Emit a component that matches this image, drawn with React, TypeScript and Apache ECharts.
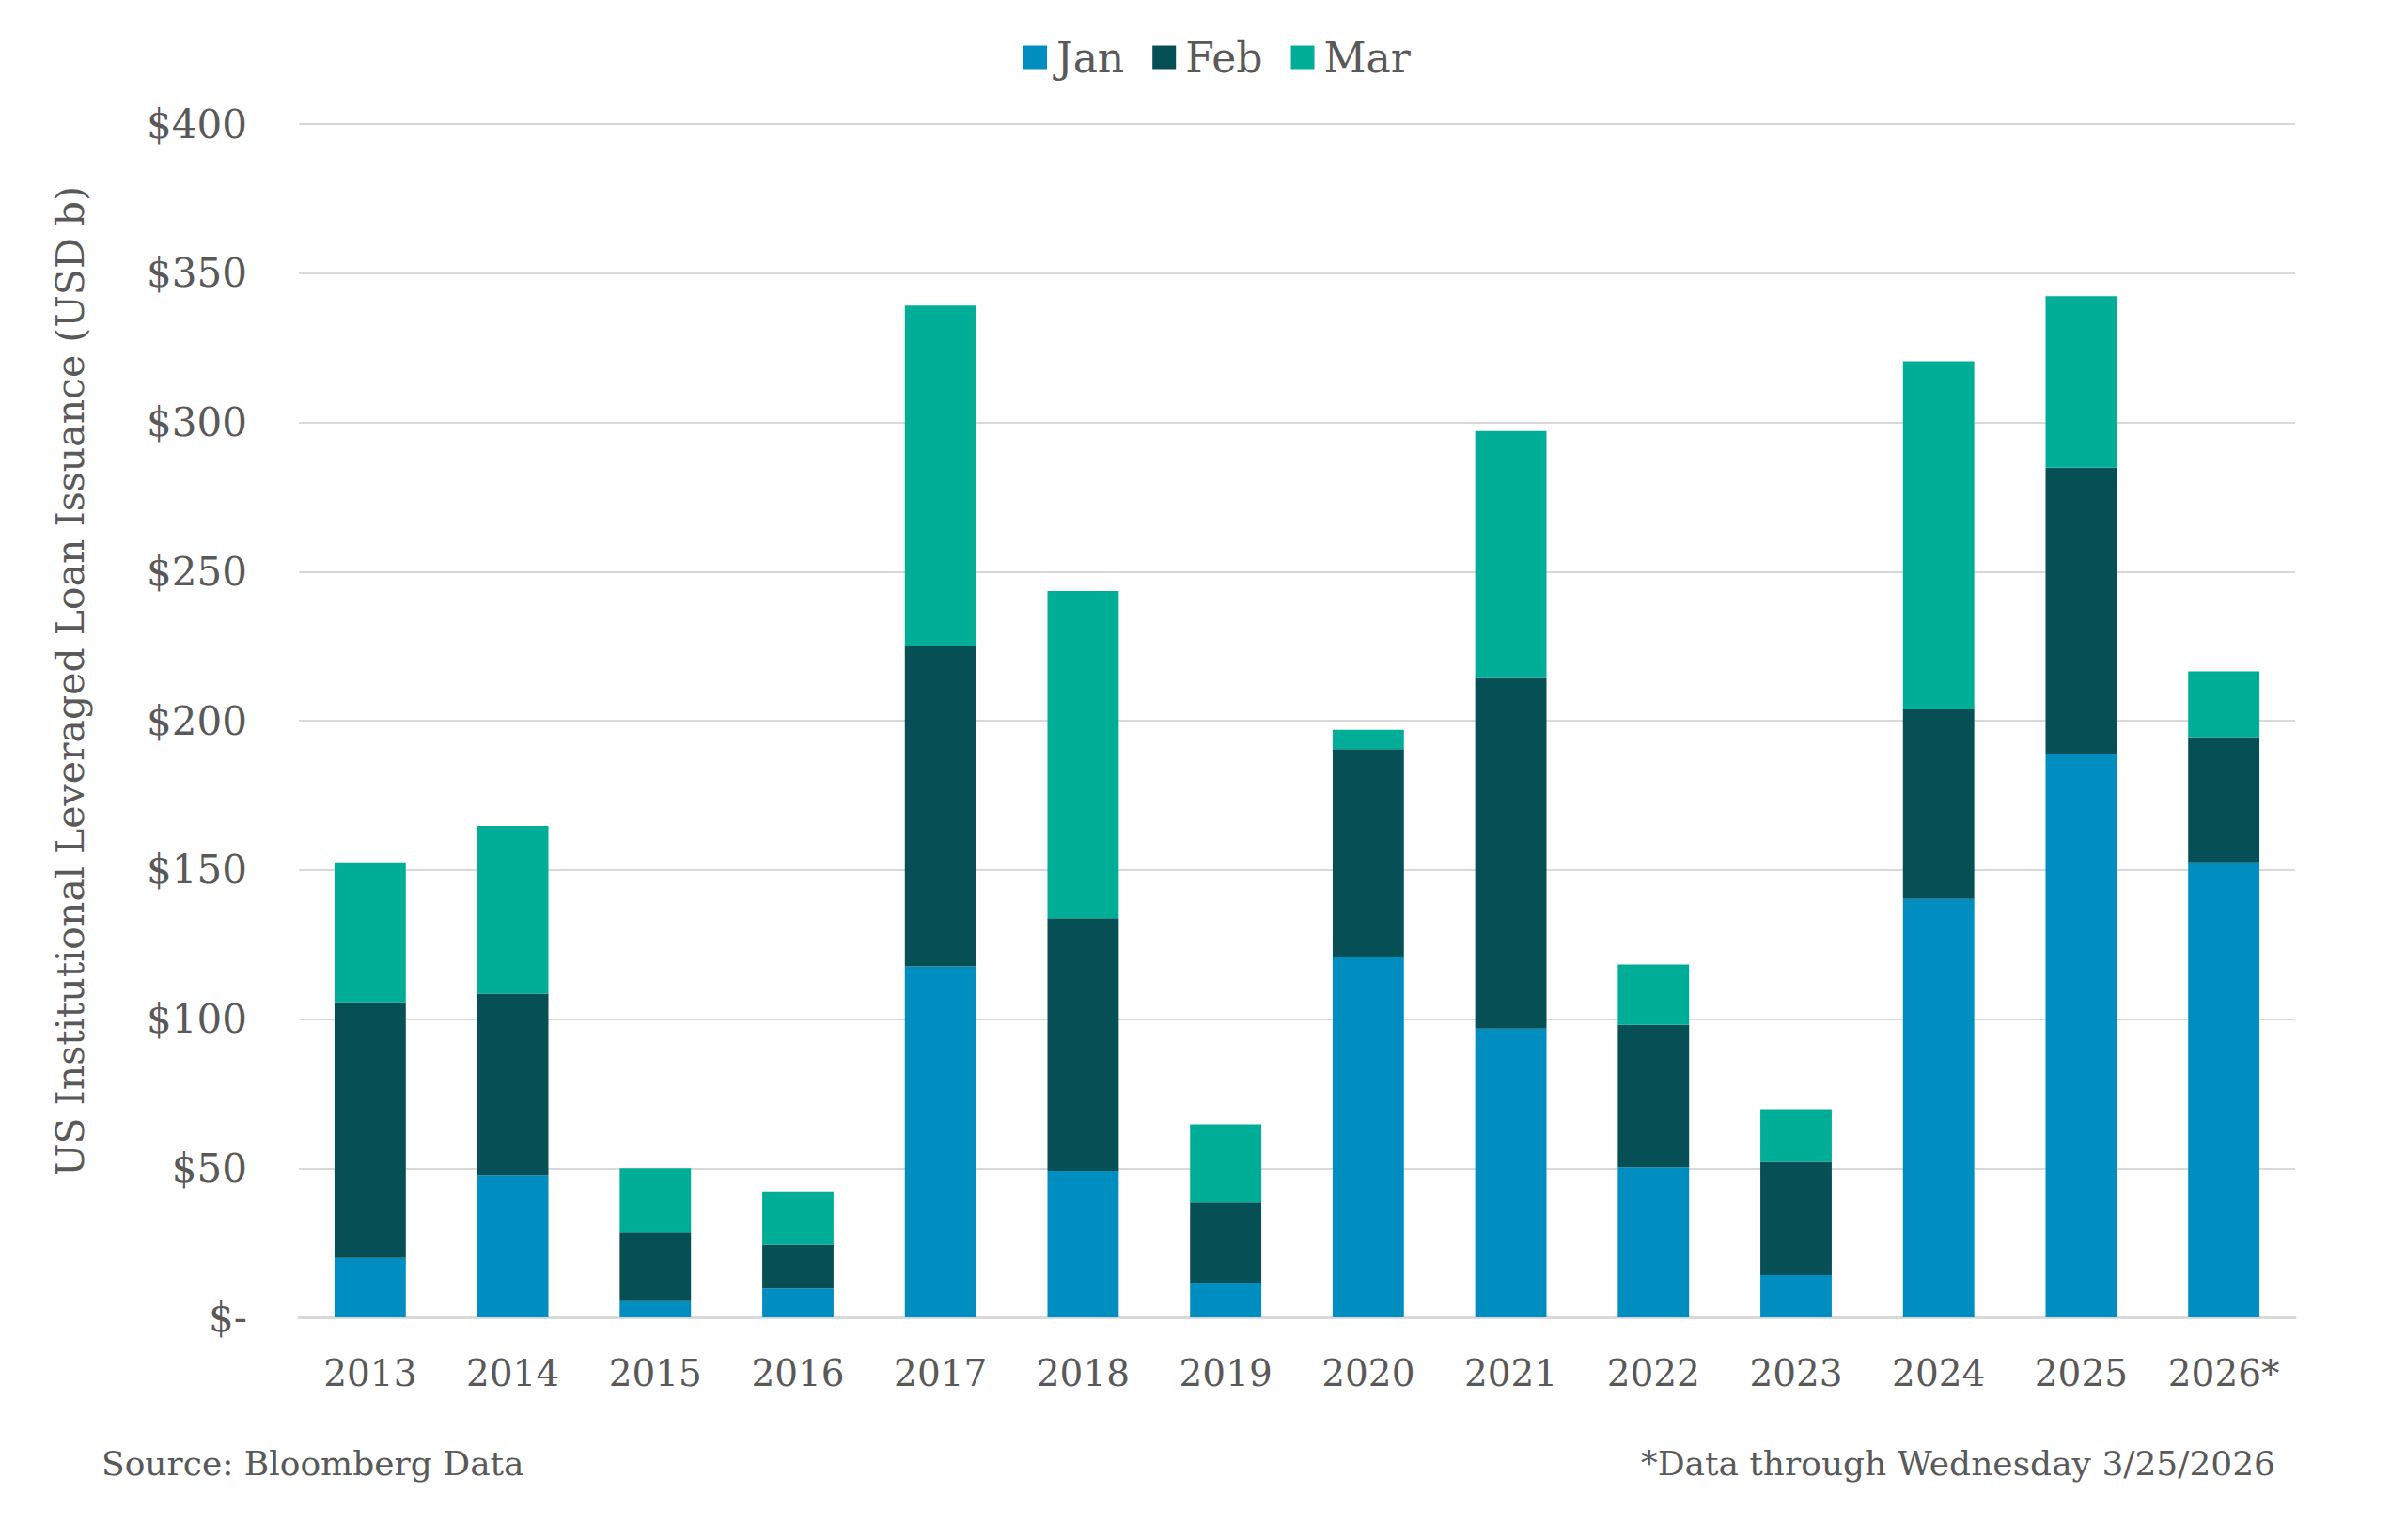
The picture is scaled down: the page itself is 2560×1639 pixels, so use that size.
import React, { useEffect, useRef } from "react";
import * as echarts from "echarts";

const years = ["2013", "2014", "2015", "2016", "2017", "2018", "2019", "2020", "2021", "2022", "2023", "2024", "2025", "2026*"];
const jan = [19.9, 47.5, 5.4, 9.7, 117.6, 49.1, 11.3, 120.7, 96.8, 50.3, 14.2, 140.2, 188.7, 152.5];
const feb = [85.8, 61.0, 23.2, 14.7, 107.5, 84.7, 27.4, 69.8, 117.5, 47.7, 37.9, 63.6, 96.1, 42.0];
const mar = [46.8, 56.2, 21.4, 17.6, 114.0, 109.7, 26.0, 6.4, 82.8, 20.3, 17.7, 116.7, 57.5, 22.0];
const seriesNames = ["Jan", "Feb", "Mar"];
const colors = ["#008DC0", "#064F55", "#00AE97"];
const yAxisTitle = "US Institutional Leveraged Loan Issuance (USD b)";
const sourceNote = "Source: Bloomberg Data";
const dataNote = "*Data through Wednesday 3/25/2026";

const FONT = "Georgia, 'DejaVu Serif', serif";
const TEXT = "#595959";

export default function App() {
  const ref = useRef<HTMLDivElement>(null);
  useEffect(() => {
    if (!ref.current) return;
    const chart = echarts.init(ref.current, undefined, { renderer: "svg" });
    const values = [jan, feb, mar];
    chart.setOption({
      animation: false,
      backgroundColor: "#ffffff",
      textStyle: { fontFamily: FONT, color: TEXT },
      legend: {
        data: seriesNames,
        left: 1076,
        top: 26,
        itemWidth: 25,
        itemHeight: 25,
        itemGap: 30,
        icon: "rect",
        textStyle: { fontFamily: FONT, fontSize: 44, color: TEXT, padding: [0, 0, 0, 5] },
      },
      grid: { left: 310, right: 110, top: 124, bottom: 229, containLabel: false },
      xAxis: {
        type: "category",
        data: years,
        axisLine: { show: true, lineStyle: { color: "#D9D9D9", width: 3 } },
        axisTick: { show: false },
        axisLabel: { fontFamily: FONT, fontSize: 39, color: TEXT, margin: 40, interval: 0, hideOverlap: false },
      },
      yAxis: {
        type: "value",
        min: 0,
        max: 400,
        interval: 50,
        axisLine: { show: false },
        axisTick: { show: false },
        splitLine: { lineStyle: { color: "#D9D9D9", width: 2 } },
        axisLabel: {
          fontFamily: FONT,
          fontSize: 42,
          color: TEXT,
          margin: 55,
          formatter: (v: number) => (v === 0 ? "$-" : "$" + v),
        },
      },
      series: values.map((d, i) => ({
        name: seriesNames[i],
        type: "bar",
        stack: "total",
        data: d,
        barCategoryGap: "50%",
        itemStyle: { color: colors[i] },
      })),
      graphic: [
        {
          type: "text",
          x: 67,
          y: 717,
          rotation: Math.PI / 2,
          style: {
            text: yAxisTitle,
            fontFamily: FONT,
            fontSize: 41,
            fill: TEXT,
            align: "center",
            verticalAlign: "middle",
          },
        },
        {
          type: "text",
          x: 100,
          y: 1549,
          style: { text: sourceNote, fontFamily: FONT, fontSize: 36, fill: TEXT, align: "left", verticalAlign: "middle" },
        },
        {
          type: "text",
          x: 2413,
          y: 1549,
          style: { text: dataNote, fontFamily: FONT, fontSize: 36, fill: TEXT, align: "right", verticalAlign: "middle" },
        },
      ],
    });
    return () => chart.dispose();
  }, []);
  return <div ref={ref} style={{ width: 2544, height: 1623 }} />;
}
